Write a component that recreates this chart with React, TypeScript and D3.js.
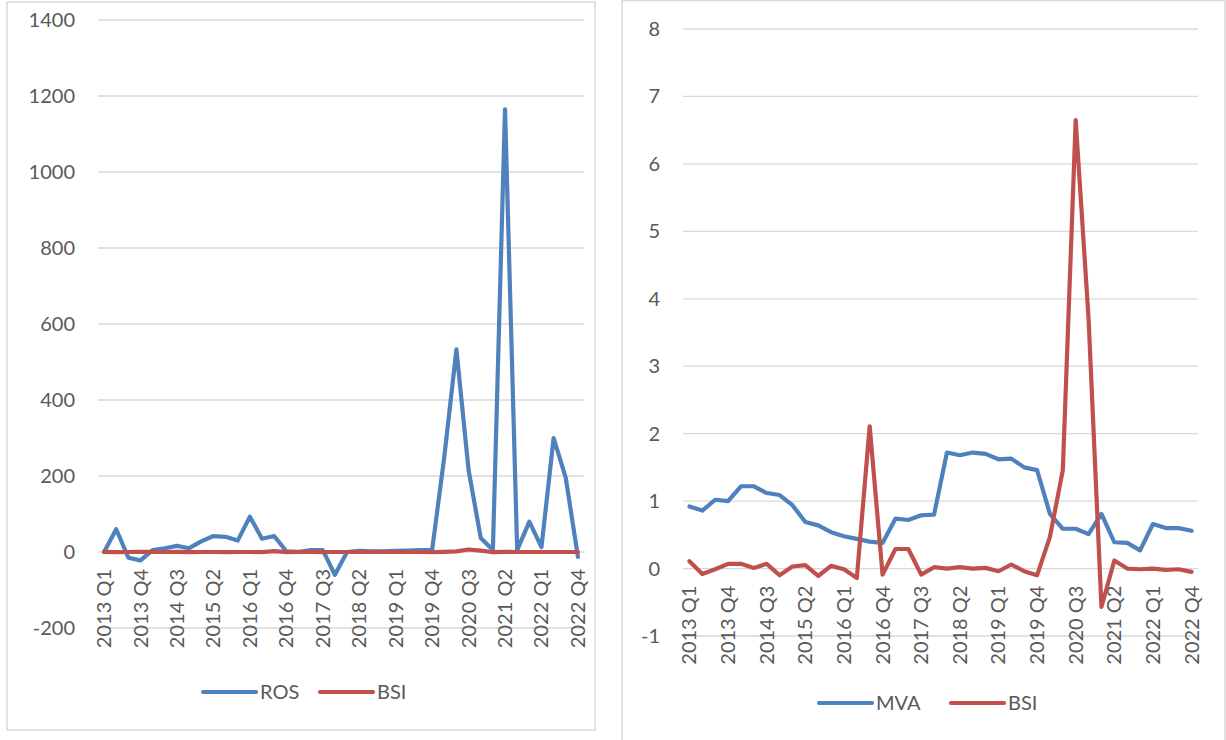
import React, { useEffect, useRef } from 'react';
import * as d3 from 'd3';

const years = [2013, 2014, 2015, 2016, 2017, 2018, 2019, 2020, 2021, 2022];
const quarters = ['Q1', 'Q2', 'Q3', 'Q4'];
const categories = years.flatMap(y => quarters.map(q => `${y} ${q}`));

const rosValues = [
  0, 60, -15, -22, 5, 10, 16, 10, 28, 42,
  40, 30, 93, 35, 42, 2, 0, 5, 5, -60,
  0, 3, 2, 2, 3, 4, 5, 5, 250, 533,
  216, 37, 5, 1165, 5, 80, 13, 300, 195, -13,
];

const bsiValues = [
  0.11, -0.08, -0.01, 0.07, 0.07, 0.01, 0.07, -0.1, 0.03, 0.05,
  -0.11, 0.04, -0.01, -0.14, 2.11, -0.09, 0.29, 0.29, -0.09, 0.02,
  0, 0.02, 0, 0.01, -0.04, 0.06, -0.04, -0.1, 0.47, 1.46,
  6.65, 3.71, -0.57, 0.12, 0, -0.01, 0, -0.02, -0.01, -0.05,
];

const mvaValues = [
  0.92, 0.86, 1.02, 1.0, 1.22, 1.22, 1.12, 1.09, 0.94, 0.69,
  0.64, 0.54, 0.48, 0.44, 0.4, 0.38, 0.74, 0.72, 0.79, 0.8,
  1.72, 1.68, 1.72, 1.7, 1.62, 1.63, 1.5, 1.46, 0.81, 0.59,
  0.59, 0.51, 0.81, 0.39, 0.38, 0.27, 0.66, 0.6, 0.6, 0.56,
];

const leftTicks = [-200, 0, 200, 400, 600, 800, 1000, 1200, 1400];
const rightTicks = [-1, 0, 1, 2, 3, 4, 5, 6, 7, 8];

const BLUE = '#4F81BD';
const RED = '#C0504D';
const GRID = '#D9D9D9';
const TEXT = '#595959';
const FONT = 'Lato, "Open Sans", sans-serif';

function drawPanel(svg, cfg) {
  const g = svg.append('g');

  // chart frame
  g.append('rect')
    .attr('x', cfg.frame[0]).attr('y', cfg.frame[1])
    .attr('width', cfg.frame[2]).attr('height', cfg.frame[3])
    .attr('fill', 'white').attr('stroke', GRID).attr('stroke-width', 1.5);

  const x = d3.scalePoint()
    .domain(categories)
    .range([cfg.left, cfg.right])
    .padding(0.5);

  const y = d3.scaleLinear()
    .domain(cfg.domain)
    .range([cfg.bottom, cfg.top]);

  // gridlines
  g.append('g')
    .selectAll('line')
    .data(cfg.ticks)
    .join('line')
    .attr('x1', cfg.left).attr('x2', cfg.right)
    .attr('y1', d => y(d)).attr('y2', d => y(d))
    .attr('stroke', GRID).attr('stroke-width', 1.3);

  // y tick labels
  g.append('g')
    .selectAll('text')
    .data(cfg.ticks)
    .join('text')
    .attr('x', cfg.tickX)
    .attr('y', d => y(d))
    .attr('dy', '0.35em')
    .attr('text-anchor', 'end')
    .attr('font-family', FONT).attr('font-size', 20).attr('fill', TEXT)
    .text(d => d);

  // x labels, every third quarter
  const zeroY = y(0);
  g.append('g')
    .selectAll('text')
    .data(categories.filter((_, i) => i % 3 === 0))
    .join('text')
    .attr('transform', d => `translate(${x(d)},${zeroY + 17}) rotate(-90)`)
    .attr('dy', '0.35em')
    .attr('text-anchor', 'end')
    .attr('font-family', FONT).attr('font-size', 20).attr('fill', TEXT)
    .text(d => d);

  const line = d3.line()
    .x((d, i) => x(categories[i]))
    .y(d => y(d));

  cfg.series.forEach(s => {
    g.append('path')
      .attr('d', line(s.values))
      .attr('fill', 'none')
      .attr('stroke', s.color)
      .attr('stroke-width', 4.2)
      .attr('stroke-linejoin', 'round')
      .attr('stroke-linecap', 'round');
  });

  // legend
  cfg.series.forEach(s => {
    g.append('line')
      .attr('x1', s.legendX).attr('x2', s.legendX + 53)
      .attr('y1', cfg.legendY).attr('y2', cfg.legendY)
      .attr('stroke', s.color).attr('stroke-width', 4.2)
      .attr('stroke-linecap', 'round');
    g.append('text')
      .attr('x', s.legendX + 57).attr('y', cfg.legendY)
      .attr('dy', '0.35em')
      .attr('font-family', FONT).attr('font-size', 20).attr('fill', TEXT)
      .text(s.name);
  });
}

const App = () => {
  const svgRef = useRef(null);

  useEffect(() => {
    const svg = d3.select(svgRef.current);
    svg.selectAll('*').remove();

    drawPanel(svg, {
      frame: [7, 2, 588, 728],
      left: 98, right: 584, top: 20, bottom: 628,
      domain: [-200, 1400],
      ticks: leftTicks,
      tickX: 75,
      legendY: 692,
      series: [
        { name: 'ROS', values: rosValues, color: BLUE, legendX: 203 },
        { name: 'BSI', values: bsiValues, color: RED, legendX: 320 },
      ],
    });

    drawPanel(svg, {
      frame: [622, 0.5, 603, 760],
      left: 683, right: 1198, top: 29, bottom: 636,
      domain: [-1, 8],
      ticks: rightTicks,
      tickX: 660,
      legendY: 703,
      series: [
        { name: 'MVA', values: mvaValues, color: BLUE, legendX: 819 },
        { name: 'BSI', values: bsiValues, color: RED, legendX: 951 },
      ],
    });
  }, []);

  return (
    <svg
      ref={svgRef}
      width={1226}
      height={740}
      style={{ position: 'absolute', left: 0, top: 0, background: 'white' }}
    />
  );
};

export default App;
